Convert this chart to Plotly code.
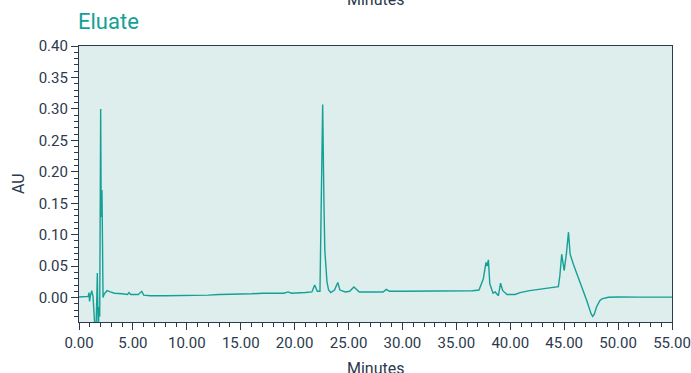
import plotly.graph_objects as go

# Chromatogram trace (time in minutes, absorbance in AU)
minutes = [0.0, 0.5, 0.85, 0.93, 0.98, 1.05, 1.18, 1.30, 1.48, 1.55, 1.65, 1.70, 1.75, 1.79, 1.85, 1.92,
           2.01, 2.06, 2.13, 2.18, 2.23, 2.35, 2.6, 2.9, 3.3, 4.0, 4.5, 4.64, 4.8, 5.5, 5.82, 6.0, 6.6,
           8.0, 10.0, 11.0, 12.0, 13.0, 14.0, 15.0, 16.0, 17.0, 18.0, 19.0, 19.4, 19.7, 21.0, 21.6,
           21.86, 22.1, 22.35, 22.45, 22.6, 22.72, 22.8, 23.0, 23.15, 23.35, 23.7, 24.0, 24.2, 24.7,
           25.1, 25.5, 25.8, 26.0, 27.0, 28.2, 28.5, 28.8, 30.0, 32.0, 34.0, 35.3, 36.5, 37.1, 37.5,
           37.75, 37.85, 37.97, 38.1, 38.4, 38.6, 38.9, 39.1, 39.3, 39.7, 40.45, 40.9, 41.8, 43.0,
           44.3, 44.46, 44.6, 44.77, 45.0, 45.2, 45.4, 45.55, 45.85, 46.5, 47.1, 47.5, 47.65, 47.8,
           48.0, 48.3, 48.5, 49.1, 50.0, 52.0, 55.0]
absorbance = [0.001, 0.001, 0.002, 0.008, -0.006, 0.002, 0.011, 0.002, -0.06, -0.07, 0.0, 0.039, -0.02, -0.06, -0.015, -0.03,
              0.30, 0.128, 0.171, 0.05, 0.0, 0.006, 0.011, 0.009, 0.007, 0.006, 0.005, 0.008, 0.005, 0.005, 0.010, 0.004, 0.003,
              0.003, 0.003, 0.004, 0.004, 0.005, 0.005, 0.006, 0.006, 0.007, 0.007, 0.007, 0.009, 0.007, 0.008, 0.009,
              0.020, 0.010, 0.010, 0.15, 0.307, 0.15, 0.075, 0.025, 0.012, 0.008, 0.012, 0.024, 0.012, 0.009,
              0.010, 0.017, 0.012, 0.009, 0.009, 0.009, 0.013, 0.010, 0.010, 0.010, 0.011, 0.011, 0.011, 0.012, 0.030,
              0.056, 0.050, 0.060, 0.022, 0.007, 0.009, 0.003, 0.023, 0.011, 0.005, 0.005, 0.008, 0.011, 0.014,
              0.017, 0.0175, 0.035, 0.069, 0.043, 0.069, 0.104, 0.069, 0.053, 0.024, -0.005, -0.026, -0.030, -0.026,
              -0.015, -0.005, -0.002, 0.0005, 0.001, 0.0008, 0.0008]

x_ticks = [0, 5, 10, 15, 20, 25, 30, 35, 40, 45, 50, 55]
x_tick_labels = ["0.00", "5.00", "10.00", "15.00", "20.00", "25.00", "30.00", "35.00", "40.00", "45.00", "50.00", "55.00"]
y_ticks = [0.0, 0.05, 0.10, 0.15, 0.20, 0.25, 0.30, 0.35, 0.40]
y_tick_labels = ["0.00", "0.05", "0.10", "0.15", "0.20", "0.25", "0.30", "0.35", "0.40"]

TEAL = "#15a097"
AXIS = "#2b3a4c"
FONT = "Roboto, Liberation Sans, sans-serif"

fig = go.Figure()
fig.add_trace(go.Scatter(x=minutes, y=absorbance, mode="lines",
                         line=dict(color=TEAL, width=1.4), hoverinfo="skip", showlegend=False))

axis_common = dict(showgrid=False, zeroline=False, showline=True, linecolor=AXIS, linewidth=1.2,
                   mirror=True, ticks="outside", ticklen=7, tickwidth=1.2, tickcolor=AXIS,
                   automargin=False, ticklabeloverflow="allow",
                   tickfont=dict(family=FONT, size=15, color=AXIS))

fig.update_layout(
    width=691, height=373, autosize=False,
    margin=dict(l=79, r=19, t=46, b=51),
    paper_bgcolor="white", plot_bgcolor="#deeeed",
    font=dict(family=FONT, color=AXIS),
    xaxis=dict(range=[0, 55], tickvals=x_ticks, ticktext=x_tick_labels,
               minor=dict(dtick=1, ticks="outside", ticklen=4, tickwidth=1, tickcolor=AXIS),
               **axis_common),
    yaxis=dict(range=[-0.0388, 0.40], tickvals=y_ticks, ticktext=y_tick_labels,
               minor=dict(dtick=0.01, tick0=0, ticks="outside", ticklen=4, tickwidth=1, tickcolor=AXIS),
               **axis_common),
    annotations=[
        dict(text="Eluate", xref="paper", yref="paper", x=0, y=1, xanchor="left", yanchor="bottom",
             xshift=-3, yshift=10, showarrow=False, font=dict(family=FONT, size=22, color=TEAL)),
        dict(text="AU", xref="paper", yref="paper", x=0, y=0.5, xanchor="center", yanchor="middle",
             xshift=-61, showarrow=False, textangle=-90, font=dict(family=FONT, size=16, color=AXIS)),
        dict(text="Minutes", xref="paper", yref="paper", x=0.5, y=0, xanchor="center", yanchor="top",
             yshift=-35, showarrow=False, font=dict(family=FONT, size=16, color=AXIS)),
        dict(text="Minutes", xref="paper", yref="paper", x=0.5, y=1, xanchor="center", yanchor="bottom",
             yshift=35, showarrow=False, font=dict(family=FONT, size=16, color=AXIS)),
    ],
)

fig.write_html(
    "out.html",
    config={"displayModeBar": False, "responsive": False},
    post_script="document.body.style.margin='0';document.body.style.overflow='hidden';",
)
